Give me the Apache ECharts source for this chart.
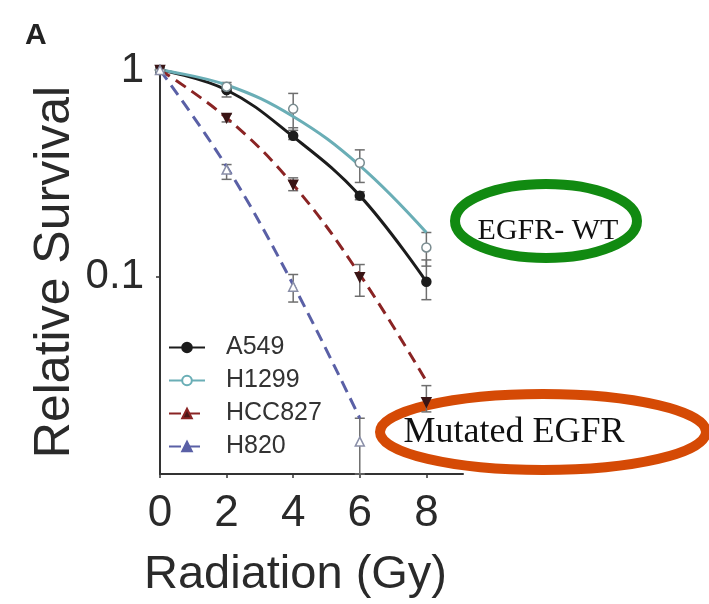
<!DOCTYPE html>
<html>
<head>
<meta charset="utf-8">
<script src="https://cdn.jsdelivr.net/npm/echarts@6/dist/echarts.min.js"></script>
<style>
  html, body { margin: 0; padding: 0; background: #fff; }
  #chart { width: 709px; height: 604px; }
</style>
</head>
<body>
<div id="chart"></div>
<script>
// doses (Gy)
var doses = [0, 2, 4, 6, 8];
var h820Doses = [0, 2, 4, 6];

// fitted survival curves
var a549Fit = [1, 0.80, 0.475, 0.246, 0.094];
var h1299Fit = [1, 0.846, 0.595, 0.344, 0.163];
var hcc827Fit = [1, 0.586, 0.278, 0.102, 0.031];
var h820Fit = [1, 0.34, 0.091, 0.0205];

// measured points
var a549Pts = [1, 0.80, 0.48, 0.246, 0.094];
var h1299Pts = [1, 0.83, 0.648, 0.355, 0.138];
var hcc827Pts = [1, 0.586, 0.278, 0.099, 0.0245];
var h820Pts = [1, 0.329, 0.089, 0.0158];

// error bars (low / high)
var a549Lo = [0.97, 0.74, 0.46, 0.235, 0.077];
var a549Hi = [1.03, 0.85, 0.525, 0.257, 0.12];
var h1299Lo = [0.97, 0.79, 0.51, 0.285, 0.112];
var h1299Hi = [1.03, 0.87, 0.77, 0.41, 0.163];
var hcc827Lo = [0.97, 0.56, 0.26, 0.08, 0.022];
var hcc827Hi = [1.03, 0.61, 0.30, 0.114, 0.0295];
var h820Lo = [0.97, 0.295, 0.075, 0.011];
var h820Hi = [1.03, 0.348, 0.102, 0.0205];

var xTicks = [0, 2, 4, 6, 8];
var yTicks = [1, 0.1];

function pairs(xs, ys) {
  return xs.map(function (x, i) { return [x, ys[i]]; });
}
function bars(xs, lo, hi) {
  return xs.map(function (x, i) { return [x, lo[i], hi[i]]; });
}

var chart = echarts.init(document.getElementById('chart'));

function errorBars(name, data) {
  return {
    name: name + ' err',
    type: 'custom',
    z: 1,
    data: data,
    renderItem: function (params, api) {
      var x = api.value(0);
      var lo = api.coord([x, api.value(1)]);
      var hi = api.coord([x, api.value(2)]);
      var w = 5;
      var st = { stroke: '#6e6e6e', lineWidth: 1.5 };
      return {
        type: 'group',
        children: [
          { type: 'line', shape: { x1: lo[0], y1: lo[1], x2: hi[0], y2: hi[1] }, style: st },
          { type: 'line', shape: { x1: lo[0] - w, y1: lo[1], x2: lo[0] + w, y2: lo[1] }, style: st },
          { type: 'line', shape: { x1: hi[0] - w, y1: hi[1], x2: hi[0] + w, y2: hi[1] }, style: st }
        ]
      };
    }
  };
}

function fitLine(name, data, color, dashed, symbol, fill, symbolSize) {
  return {
    name: name,
    type: 'line',
    smooth: 0.4,
    z: 2,
    showSymbol: false,
    symbol: symbol,
    symbolSize: symbolSize,
    data: data,
    lineStyle: { color: color, width: 3, type: dashed ? [12, 7] : 'solid' },
    itemStyle: { color: fill, borderColor: color, borderWidth: 1.5 },
    emphasis: { disabled: true }
  };
}

function points(name, data, color, symbol, fill, symbolSize, rotate) {
  return {
    name: name + ' pts',
    type: 'scatter',
    z: 3,
    symbol: symbol,
    symbolSize: symbolSize,
    symbolRotate: rotate || 0,
    data: data,
    itemStyle: { color: fill, borderColor: color, borderWidth: 1.5, opacity: 1 }
  };
}

var option = {
  backgroundColor: '#fff',
  animation: false,
  textStyle: { fontFamily: 'Liberation Sans' },
  grid: { left: 160, right: 246, top: 70, bottom: 128 },
  legend: {
    left: 163,
    top: 330,
    orient: 'vertical',
    itemWidth: 36,
    itemHeight: 12,
    itemGap: 8,
    data: ['A549', 'H1299', 'HCC827', 'H820'],
    formatter: '{a|{name}}',
    textStyle: {
      color: '#333',
      rich: { a: { fontSize: 25, lineHeight: 25, padding: [0, 0, 0, 16], color: '#333', fontFamily: 'Liberation Sans' } }
    }
  },
  xAxis: {
    type: 'value',
    min: 0,
    max: 9.1,
    interval: 2,
    name: 'Radiation (Gy)',
    nameLocation: 'middle',
    nameGap: 78,
    nameTextStyle: { fontSize: 47, color: '#2a2a2a', padding: [0, 32, 0, 0] },
    splitLine: { show: false },
    axisLine: { lineStyle: { color: '#333', width: 2 } },
    axisTick: { customValues: xTicks, length: 4, lineStyle: { color: '#333', width: 1.5 } },
    axisLabel: { customValues: xTicks, fontSize: 44, color: '#2a2a2a', margin: 18 }
  },
  yAxis: {
    type: 'log',
    logBase: 10,
    min: 0.011,
    max: 1,
    name: 'Relative Survival',
    nameLocation: 'middle',
    nameGap: 80,
    nameTextStyle: { fontSize: 50, color: '#2a2a2a' },
    splitLine: { show: false },
    axisLine: { lineStyle: { color: '#333', width: 2 } },
    axisTick: { customValues: yTicks, length: 4, lineStyle: { color: '#333', width: 1.5 } },
    axisLabel: {
      customValues: yTicks, fontSize: 42, color: '#2a2a2a', margin: 16,
      formatter: function (v) { return v >= 0.99 ? '1' : '0.1'; }
    }
  },
  graphic: [
    { type: 'text', left: 25, top: 21, style: { text: 'A', fontSize: 30, fontWeight: 'bold', fill: '#222', fontFamily: 'Liberation Sans' } },
    { type: 'ellipse', shape: { cx: 546, cy: 221, rx: 91, ry: 37 }, style: { fill: 'none', stroke: '#118a11', lineWidth: 10 } },
    { type: 'text', x: 548, y: 231, style: { text: 'EGFR- WT', fontSize: 30, fill: '#111', fontFamily: 'Liberation Serif', align: 'center', verticalAlign: 'middle' } },
    { type: 'ellipse', shape: { cx: 543, cy: 432, rx: 163, ry: 38 }, style: { fill: 'none', stroke: '#d54a05', lineWidth: 10 } },
    { type: 'text', x: 514, y: 433, style: { text: 'Mutated EGFR', fontSize: 36, fill: '#111', fontFamily: 'Liberation Serif', align: 'center', verticalAlign: 'middle' } }
  ],
  series: [
    errorBars('A549', bars(doses, a549Lo, a549Hi)),
    errorBars('H1299', bars(doses, h1299Lo, h1299Hi)),
    errorBars('HCC827', bars(doses, hcc827Lo, hcc827Hi)),
    errorBars('H820', bars(h820Doses, h820Lo, h820Hi)),
    fitLine('A549', pairs(doses, a549Fit), '#1c1c1c', false, 'circle', '#1c1c1c', 8),
    fitLine('H1299', pairs(doses, h1299Fit), '#6aaeb6', false, 'circle', '#fff', 8),
    fitLine('HCC827', pairs(doses, hcc827Fit), '#8a2424', true, 'triangle', '#4a1818', 8),
    fitLine('H820', pairs(h820Doses, h820Fit), '#5a60a6', true, 'triangle', '#5a60a6', 8),
    points('A549', pairs(doses, a549Pts), '#1c1c1c', 'circle', '#1c1c1c', 9),
    points('H1299', pairs(doses, h1299Pts), '#7a8c90', 'circle', '#fff', 9),
    points('HCC827', pairs(doses, hcc827Pts), '#3a1515', 'triangle', '#3a1515', 9, 180),
    points('H820', pairs(h820Doses, h820Pts), '#8a8fa8', 'triangle', '#fff', 9)
  ]
};

chart.setOption(option);
</script>
</body>
</html>
